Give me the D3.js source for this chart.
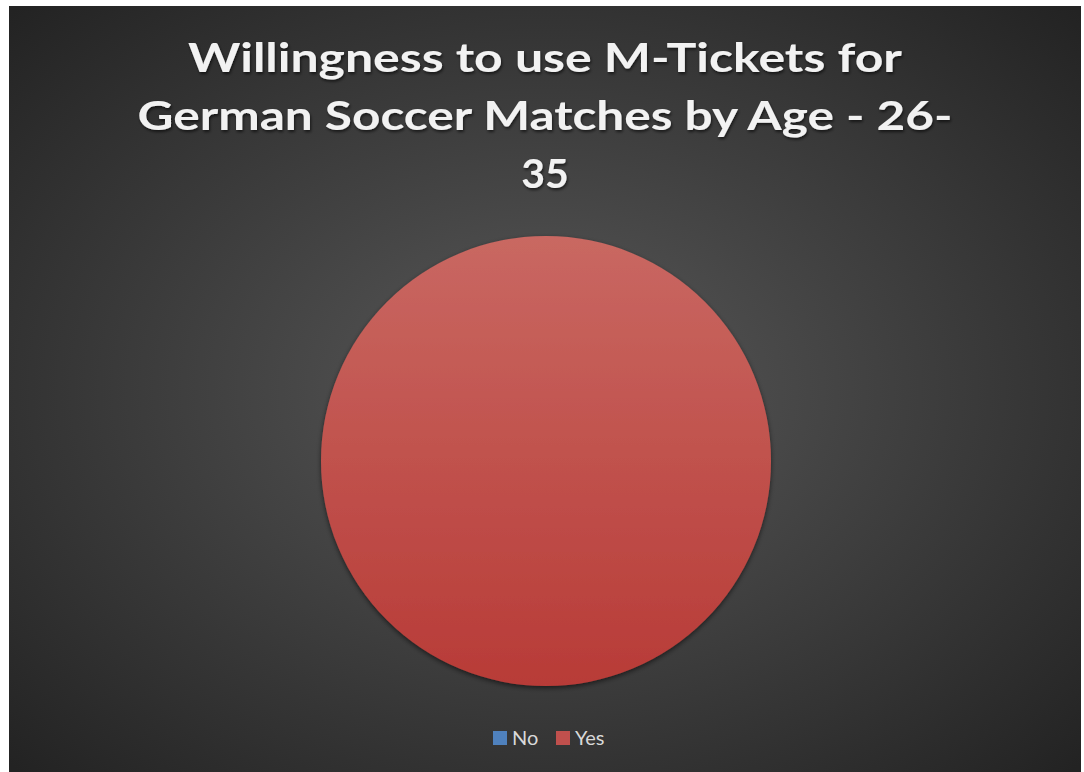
<!DOCTYPE html>
<html>
<head>
<meta charset="utf-8">
<script src="https://cdn.jsdelivr.net/npm/d3@7"></script>
<style>
  html, body { margin: 0; padding: 0; background: #ffffff; }
  svg { display: block; }
</style>
</head>
<body>
<svg id="chart" width="1084" height="772"></svg>
<script>
// Survey answers for the 26-35 age group
const categories = ["No", "Yes"];
const values = [0, 100];
const titleLines = ["Willingness to use M-Tickets for", "German Soccer Matches by Age - 26-", "35"];
const sliceColors = ["#4f81bd", "#c0504d"];

const svg = d3.select("#chart");
const W = 1084, H = 772;
const frame = { x: 9, y: 6, w: 1072, h: 766 };

const defs = svg.append("defs");

// dark radial background
const bg = defs.append("radialGradient").attr("id", "bgGrad")
  .attr("cx", "50%").attr("cy", "50%").attr("r", "70%");
bg.append("stop").attr("offset", "0%").attr("stop-color", "#595959");
bg.append("stop").attr("offset", "100%").attr("stop-color", "#232323");

// per-slice vertical shading
const sliceGrad = (id, top, bottom) => {
  const g = defs.append("linearGradient").attr("id", id)
    .attr("x1", 0).attr("y1", 0).attr("x2", 0).attr("y2", 1);
  g.append("stop").attr("offset", "0%").attr("stop-color", top);
  g.append("stop").attr("offset", "100%").attr("stop-color", bottom);
};
sliceGrad("grad-No", "#6f9ad0", "#3f6fae");
sliceGrad("grad-Yes", "#c96862", "#b83b37");

const shadow = defs.append("filter").attr("id", "pieShadow")
  .attr("x", "-10%").attr("y", "-10%").attr("width", "120%").attr("height", "125%");
shadow.append("feDropShadow").attr("dx", 0).attr("dy", 2).attr("stdDeviation", 2.5)
  .attr("flood-color", "#000").attr("flood-opacity", 0.55);

const textShadow = defs.append("filter").attr("id", "textShadow")
  .attr("x", "-5%").attr("y", "-20%").attr("width", "110%").attr("height", "150%");
textShadow.append("feDropShadow").attr("dx", 1).attr("dy", 2).attr("stdDeviation", 1.5)
  .attr("flood-color", "#000").attr("flood-opacity", 0.6);

svg.append("rect")
  .attr("x", frame.x).attr("y", frame.y)
  .attr("width", frame.w).attr("height", frame.h)
  .attr("fill", "url(#bgGrad)");

// title
const titleWidths = [714, 815, null];
const baselines = [72, 130, 188];
const title = svg.append("g").attr("filter", "url(#textShadow)");
titleLines.forEach((line, i) => {
  const t = title.append("text")
    .attr("x", 545).attr("y", baselines[i])
    .attr("text-anchor", "middle")
    .attr("font-family", "Lato, 'Open Sans', sans-serif")
    .attr("font-weight", "bold")
    .attr("font-size", 41)
    .attr("fill", "#f2f2f2")
    .text(line);
  if (titleWidths[i]) t.attr("textLength", titleWidths[i]).attr("lengthAdjust", "spacingAndGlyphs");
});

// pie
const cx = 546, cy = 461, radius = 225;
const pie = d3.pie().sort(null).value(d => d.value);
const arc = d3.arc().innerRadius(0).outerRadius(radius);
const data = categories.map((c, i) => ({ category: c, value: values[i] }));

svg.append("g")
  .attr("transform", `translate(${cx},${cy})`)
  .attr("filter", "url(#pieShadow)")
  .selectAll("path")
  .data(pie(data).filter(d => d.endAngle - d.startAngle > 0))
  .join("path")
  .attr("d", arc)
  .attr("fill", d => {
    return "url(#grad-" + d.data.category + ")";
  });

// legend
const legend = svg.append("g").attr("transform", "translate(493,738)");
const legendX = [0, 63];
categories.forEach((c, i) => {
  const g = legend.append("g").attr("transform", `translate(${legendX[i]},0)`);
  g.append("rect").attr("x", 0).attr("y", -7).attr("width", 14).attr("height", 14)
    .attr("fill", sliceColors[i]);
  g.append("text").attr("x", 19).attr("y", 7)
    .attr("font-family", "Lato, 'Open Sans', sans-serif")
    .attr("font-size", 20)
    .attr("fill", "#d9d9d9")
    .text(c);
});
</script>
</body>
</html>
